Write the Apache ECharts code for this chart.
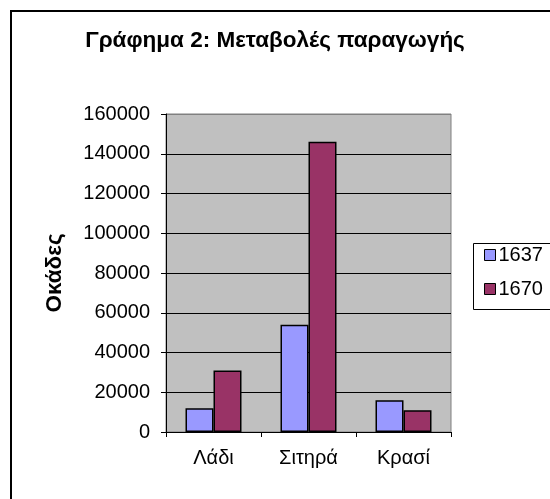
<!DOCTYPE html>
<html>
<head>
<meta charset="utf-8">
<script src="https://cdn.jsdelivr.net/npm/echarts@6/dist/echarts.min.js"></script>
<style>
html,body{margin:0;padding:0;background:#fff;}
#chart{width:550px;height:499px;}
</style>
</head>
<body>
<div id="chart"></div>
<script>
const titleText = 'Γράφημα 2: Μεταβολές παραγωγής';
const yAxisName = 'Οκάδες';
const categories = ['Λάδι', 'Σιτηρά', 'Κρασί'];
const seriesNames = ['1637', '1670'];
const values1637 = [12000, 54000, 16000];
const values1670 = [31000, 146000, 11000];
const yMin = 0, yMax = 160000, yStep = 20000;

const font = 'Liberation Sans, Arial, sans-serif';
const chart = echarts.init(document.getElementById('chart'), null, {renderer: 'canvas'});
const nLines = (yMax - yMin) / yStep + 1;
const splitColors = [];
for (let i = 0; i < nLines; i++) splitColors.push(i === nLines - 1 ? '#808080' : '#000000');

chart.setOption({
  animation: false,
  backgroundColor: '#ffffff',
  title: {
    text: titleText,
    left: 'center',
    top: 24,
    textStyle: {fontFamily: font, fontSize: 22.5, fontWeight: 'bold', color: '#000'}
  },
  legend: {
    orient: 'vertical',
    left: 479,
    top: 240,
    itemWidth: 11,
    itemHeight: 11,
    itemGap: 14,
    icon: 'rect',
    data: seriesNames,
    textStyle: {fontFamily: font, fontSize: 20, color: '#000', padding: [0, 0, 0, -2]},
    itemStyle: {borderColor: '#000', borderWidth: 1}
  },
  grid: {
    left: 166, top: 114, right: 99, bottom: 67,
    show: true, backgroundColor: '#C0C0C0', borderColor: '#808080', borderWidth: 1
  },
  xAxis: {
    type: 'category',
    data: categories,
    axisLine: {lineStyle: {color: '#000', width: 1}},
    axisTick: {show: true, length: 5, lineStyle: {color: '#000'}},
    axisLabel: {fontFamily: font, fontSize: 20, color: '#000', margin: 16}
  },
  yAxis: {
    type: 'value',
    min: yMin, max: yMax, interval: yStep,
    name: yAxisName,
    nameLocation: 'middle',
    nameRotate: 90,
    nameGap: 100,
    nameTextStyle: {fontFamily: font, fontSize: 22.5, fontWeight: 'bold', color: '#000'},
    axisLine: {show: true, lineStyle: {color: '#000', width: 1}},
    axisTick: {show: true, length: 5, lineStyle: {color: '#000'}},
    axisLabel: {fontFamily: font, fontSize: 20, color: '#000', margin: 16,
                formatter: function (v) { return String(v); }},
    splitLine: {show: true, lineStyle: {color: splitColors, width: 1}}
  },
  series: [
    {
      name: seriesNames[0], type: 'bar', data: values1637,
      barWidth: 28, barGap: '0%',
      itemStyle: {color: '#9999FF', borderColor: '#000', borderWidth: 1.5}
    },
    {
      name: seriesNames[1], type: 'bar', data: values1670,
      barWidth: 28, barGap: '0%',
      itemStyle: {color: '#993366', borderColor: '#000', borderWidth: 1.5}
    }
  ],
  graphic: [
    {type: 'rect', shape: {x: 11, y: 11, width: 700, height: 700},
     style: {fill: 'none', stroke: '#000', lineWidth: 2}, z: 100},
    {type: 'rect', shape: {x: 473.5, y: 243.5, width: 200, height: 66},
     style: {fill: 'none', stroke: '#000', lineWidth: 1}, z: 100}
  ]
});
</script>
</body>
</html>
